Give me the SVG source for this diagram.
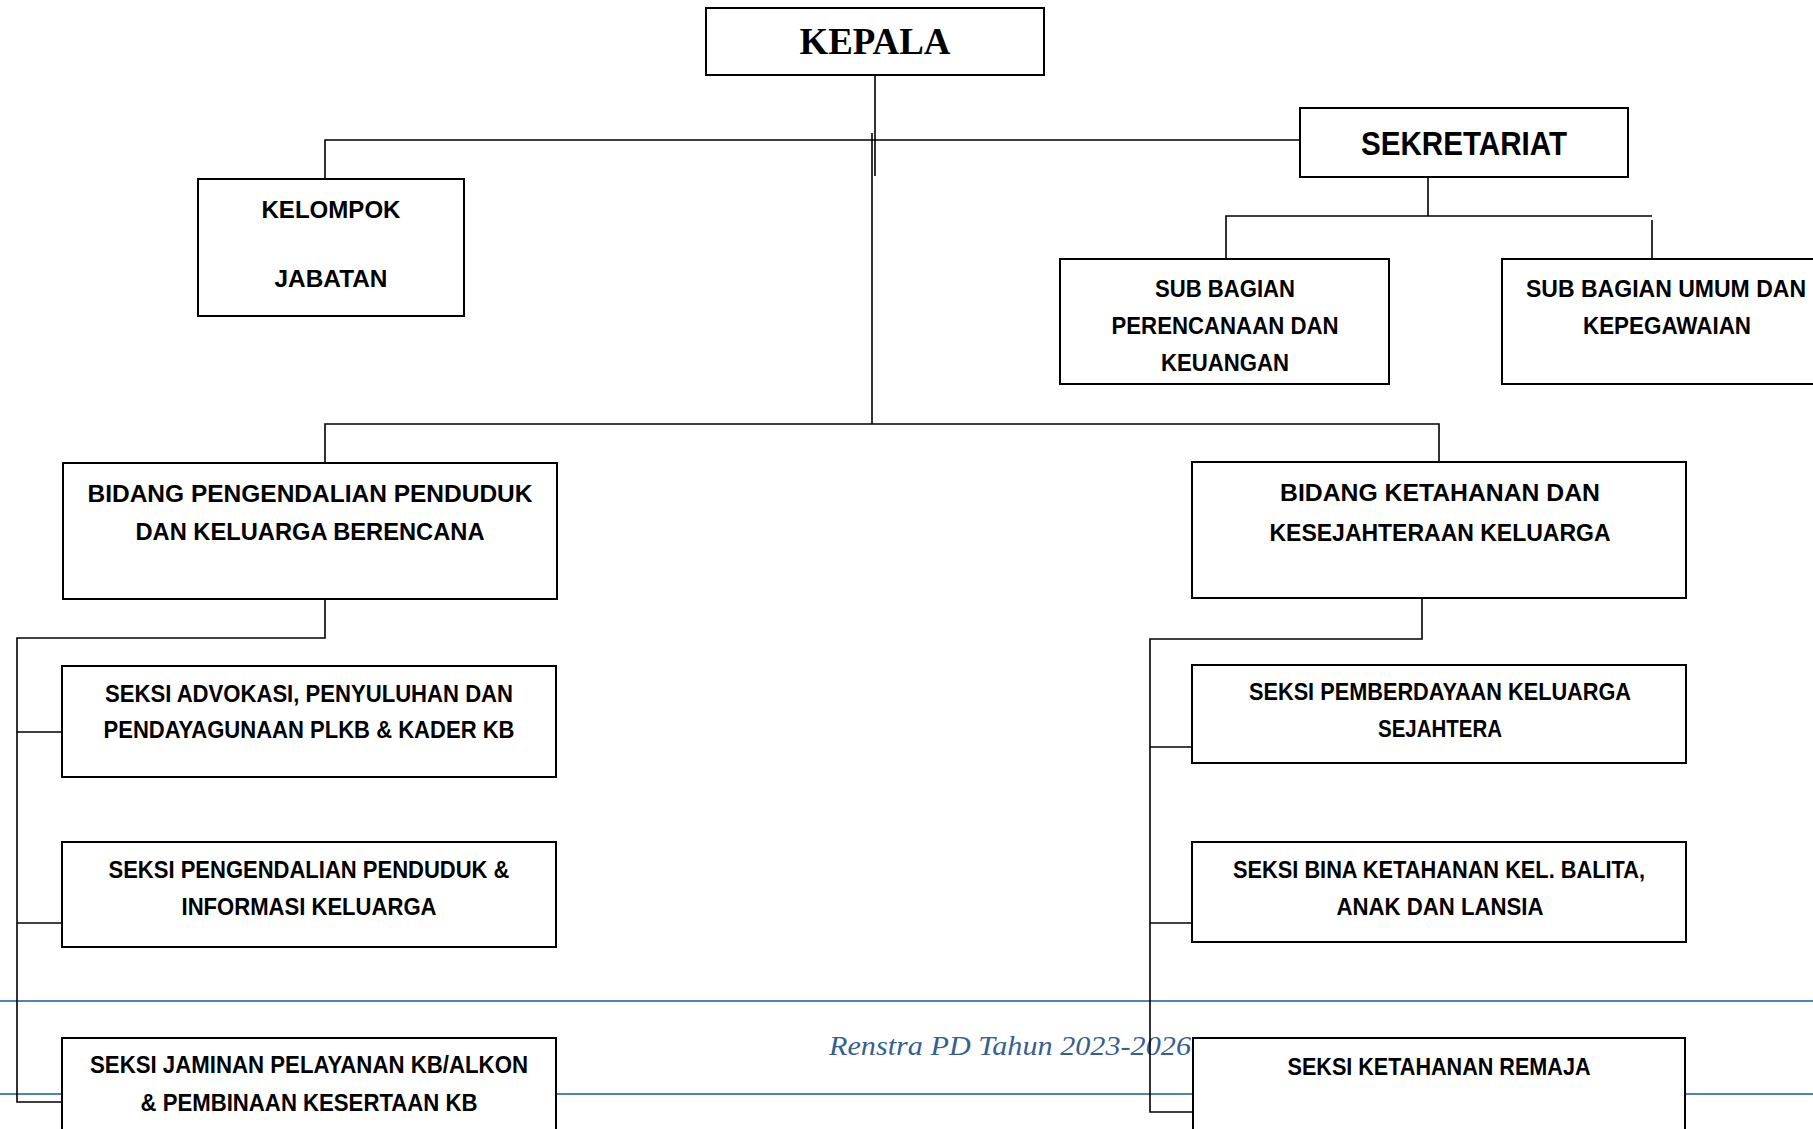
<svg xmlns="http://www.w3.org/2000/svg" width="1813" height="1129" viewBox="0 0 1813 1129">
<style>
.box{fill:#fff;stroke:#000;stroke-width:2}
.ln{fill:none;stroke:#000;stroke-width:1.6}
.t{font-family:"Liberation Sans","Arial",sans-serif;font-weight:bold;font-size:24px;fill:#000;text-anchor:middle}
.blue{stroke:#4f81bd;stroke-width:2}
</style>
<rect width="1813" height="1129" fill="#fff"/>
<g id="footer">
<line class="blue" x1="0" y1="1001" x2="1813" y2="1001"/>
<line class="blue" x1="0" y1="1094" x2="1813" y2="1094"/>
<text x="829" y="1055" font-family="'Liberation Serif',serif" font-style="italic" font-size="28" fill="#365f91" textLength="362" lengthAdjust="spacingAndGlyphs">Renstra PD Tahun 2023-2026</text>
</g>
<g id="connectors">
<line class="ln" x1="875" y1="75" x2="875" y2="176" stroke-width="2.6"/>
<line class="ln" x1="872" y1="133" x2="872" y2="424"/>
<polyline class="ln" points="325,179 325,140 1300,140"/>
<line class="ln" x1="1428" y1="177" x2="1428" y2="216"/>
<polyline class="ln" points="1226,258 1226,216 1652,216"/>
<line class="ln" x1="1652" y1="220" x2="1652" y2="259"/>
<polyline class="ln" points="325,463 325,424 1439,424 1439,465"/>
<polyline class="ln" points="325,599 325,638 17,638 17,1102 62,1102"/>
<line class="ln" x1="17" y1="732" x2="62" y2="732"/>
<line class="ln" x1="17" y1="923" x2="62" y2="923"/>
<polyline class="ln" points="1422,598 1422,639 1150,639 1150,1112 1192,1112"/>
<line class="ln" x1="1150" y1="747" x2="1192" y2="747"/>
<line class="ln" x1="1150" y1="923" x2="1192" y2="923"/>
</g>
<g id="kepala">
<rect class="box" x="706" y="8" width="338" height="67"/>
<text x="875" y="54" font-family="'Liberation Serif',serif" font-weight="bold" font-size="38" text-anchor="middle" textLength="151" lengthAdjust="spacingAndGlyphs">KEPALA</text>
</g>
<g id="kelompok-jabatan">
<rect class="box" x="198" y="179" width="266" height="137"/>
<text class="t" x="331" y="218" textLength="139" lengthAdjust="spacingAndGlyphs">KELOMPOK</text>
<text class="t" x="331" y="287" textLength="113" lengthAdjust="spacingAndGlyphs">JABATAN</text>
</g>
<g id="sekretariat">
<rect class="box" x="1300" y="108" width="328" height="69"/>
<text class="t" x="1464" y="155" style="font-size:33px" textLength="206" lengthAdjust="spacingAndGlyphs">SEKRETARIAT</text>
</g>
<g id="sub-perencanaan">
<rect class="box" x="1060" y="259" width="329" height="125"/>
<text class="t" x="1225" y="297" textLength="140" lengthAdjust="spacingAndGlyphs">SUB BAGIAN</text>
<text class="t" x="1225" y="334" textLength="227" lengthAdjust="spacingAndGlyphs">PERENCANAAN DAN</text>
<text class="t" x="1225" y="371" textLength="128" lengthAdjust="spacingAndGlyphs">KEUANGAN</text>
</g>
<g id="sub-umum">
<rect class="box" x="1502" y="259" width="340" height="125"/>
<text class="t" x="1666" y="297" textLength="280" lengthAdjust="spacingAndGlyphs">SUB BAGIAN UMUM DAN</text>
<text class="t" x="1667" y="334" textLength="168" lengthAdjust="spacingAndGlyphs">KEPEGAWAIAN</text>
</g>
<g id="bidang-ppkb">
<rect class="box" x="63" y="463" width="494" height="136"/>
<text class="t" x="310" y="502" textLength="445" lengthAdjust="spacingAndGlyphs">BIDANG PENGENDALIAN PENDUDUK</text>
<text class="t" x="310" y="540" textLength="349" lengthAdjust="spacingAndGlyphs">DAN KELUARGA BERENCANA</text>
</g>
<g id="seksi-advokasi">
<rect class="box" x="62" y="666" width="494" height="111"/>
<text class="t" x="309" y="702" textLength="408" lengthAdjust="spacingAndGlyphs">SEKSI ADVOKASI, PENYULUHAN DAN</text>
<text class="t" x="309" y="738" textLength="411" lengthAdjust="spacingAndGlyphs">PENDAYAGUNAAN PLKB &amp; KADER KB</text>
</g>
<g id="seksi-pengendalian">
<rect class="box" x="62" y="842" width="494" height="105"/>
<text class="t" x="309" y="878" textLength="401" lengthAdjust="spacingAndGlyphs">SEKSI PENGENDALIAN PENDUDUK &amp;</text>
<text class="t" x="309" y="915" textLength="255" lengthAdjust="spacingAndGlyphs">INFORMASI KELUARGA</text>
</g>
<g id="seksi-jaminan">
<rect class="box" x="62" y="1038" width="494" height="120"/>
<text class="t" x="309" y="1073" textLength="438" lengthAdjust="spacingAndGlyphs">SEKSI JAMINAN PELAYANAN KB/ALKON</text>
<text class="t" x="309" y="1111" textLength="337" lengthAdjust="spacingAndGlyphs">&amp; PEMBINAAN KESERTAAN KB</text>
</g>
<g id="bidang-kesejahteraan">
<rect class="box" x="1192" y="462" width="494" height="136"/>
<text class="t" x="1440" y="501" textLength="320" lengthAdjust="spacingAndGlyphs">BIDANG KETAHANAN DAN</text>
<text class="t" x="1440" y="541" textLength="341" lengthAdjust="spacingAndGlyphs">KESEJAHTERAAN KELUARGA</text>
</g>
<g id="seksi-pemberdayaan">
<rect class="box" x="1192" y="665" width="494" height="98"/>
<text class="t" x="1440" y="700" textLength="382" lengthAdjust="spacingAndGlyphs">SEKSI PEMBERDAYAAN KELUARGA</text>
<text class="t" x="1440" y="737" textLength="124" lengthAdjust="spacingAndGlyphs">SEJAHTERA</text>
</g>
<g id="seksi-bina">
<rect class="box" x="1192" y="842" width="494" height="100"/>
<text class="t" x="1439" y="878" textLength="412" lengthAdjust="spacingAndGlyphs">SEKSI BINA KETAHANAN KEL. BALITA,</text>
<text class="t" x="1440" y="915" textLength="207" lengthAdjust="spacingAndGlyphs">ANAK DAN LANSIA</text>
</g>
<g id="seksi-remaja">
<rect class="box" x="1193" y="1038" width="492" height="120"/>
<text class="t" x="1439" y="1075" textLength="303" lengthAdjust="spacingAndGlyphs">SEKSI KETAHANAN REMAJA</text>
</g>
</svg>
